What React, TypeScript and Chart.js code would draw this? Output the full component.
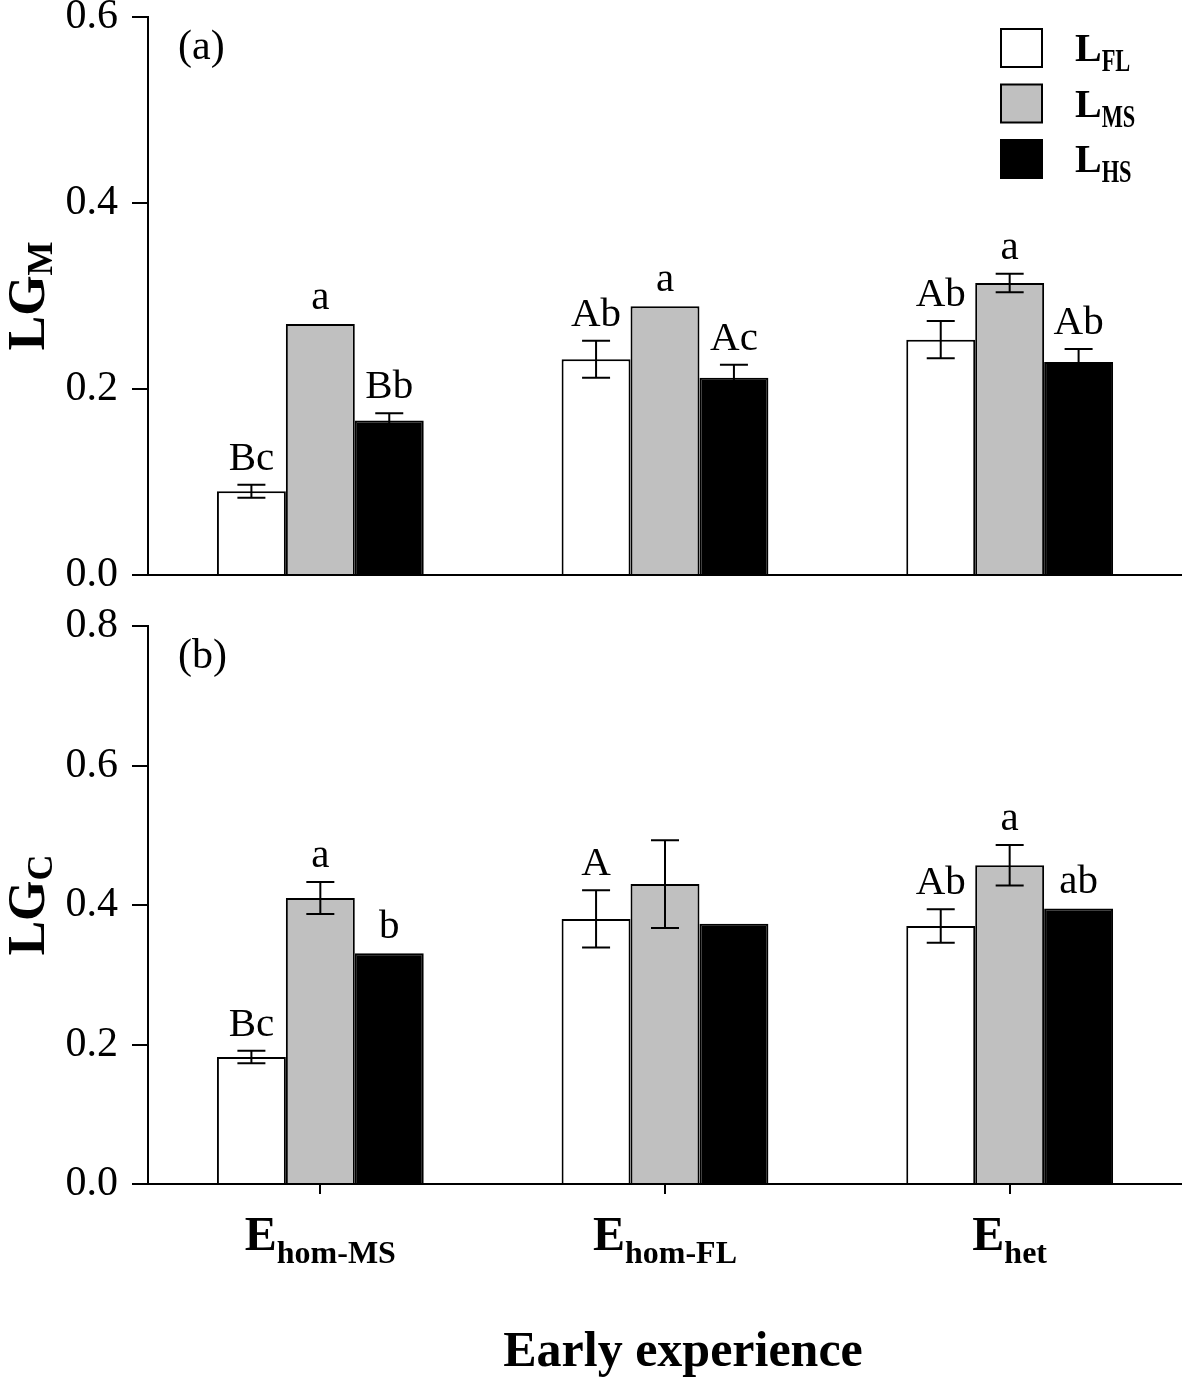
import React, { useEffect, useRef } from "react";
import { Chart, registerables } from "chart.js";

Chart.register(...registerables);

// ---- data ----
const categoryMain = "E";
const categorySubs = ["hom-MS", "hom-FL", "het"];
const seriesMain = "L";
const seriesSubs = ["FL", "MS", "HS"];
const seriesColors = ["#ffffff", "#c0c0c0", "#000000"];
const xTitle = "Early experience";

// Panel (a): LG_M
const lgmFL = [0.09, 0.232, 0.253];
const lgmMS = [0.27, 0.289, 0.314];
const lgmHS = [0.166, 0.212, 0.229];
const lgmFLErr = [0.007, 0.02, 0.02];
const lgmMSErr = [0, 0, 0.01];
const lgmHSErr = [0.008, 0.014, 0.014];
const lgmFLLetters = ["Bc", "Ab", "Ab"];
const lgmMSLetters = ["a", "a", "a"];
const lgmHSLetters = ["Bb", "Ac", "Ab"];
const lgmTicks = [0, 0.2, 0.4, 0.6];

// Panel (b): LG_C
const lgcFL = [0.182, 0.38, 0.37];
const lgcMS = [0.41, 0.43, 0.457];
const lgcHS = [0.331, 0.373, 0.395];
const lgcFLErr = [0.009, 0.041, 0.024];
const lgcMSErr = [0.023, 0.063, 0.029];
const lgcHSErr = [0, 0, 0];
const lgcFLLetters = ["Bc", "A", "Ab"];
const lgcMSLetters = ["a", "", "a"];
const lgcHSLetters = ["b", "", "ab"];
const lgcTicks = [0, 0.2, 0.4, 0.6, 0.8];

const SERIF = '"Liberation Serif", "Times New Roman", serif';

type Panel = {
  values: number[][];
  errors: number[][];
  letters: string[][];
  ticks: number[];
  yMain: string;
  ySub: string;
  tag: string;
  legend: boolean;
  xLabels: boolean;
  height: number;
  padTop: number;
  padBottom: number;
  xAxisHeight: number;
};

const panelA: Panel = {
  values: [lgmFL, lgmMS, lgmHS],
  errors: [lgmFLErr, lgmMSErr, lgmHSErr],
  letters: [lgmFLLetters, lgmMSLetters, lgmHSLetters],
  ticks: lgmTicks,
  yMain: "LG",
  ySub: "M",
  tag: "(a)",
  legend: true,
  xLabels: false,
  height: 600,
  padTop: 17,
  padBottom: 25,
  xAxisHeight: 0,
};

const panelB: Panel = {
  values: [lgcFL, lgcMS, lgcHS],
  errors: [lgcFLErr, lgcMSErr, lgcHSErr],
  letters: [lgcFLLetters, lgcMSLetters, lgcHSLetters],
  ticks: lgcTicks,
  yMain: "LG",
  ySub: "C",
  tag: "(b)",
  legend: false,
  xLabels: true,
  height: 778,
  padTop: 26,
  padBottom: 0,
  xAxisHeight: 194,
};

function makePlugin(p: Panel) {
  return {
    id: "panelDecor",
    afterDatasetsDraw(chart: any) {
      const ctx = chart.ctx;
      const ys = chart.scales.y;
      ctx.save();
      chart.data.datasets.forEach((ds: any, di: number) => {
        const meta = chart.getDatasetMeta(di);
        meta.data.forEach((bar: any, i: number) => {
          const v = ds.data[i];
          const e = p.errors[di][i];
          const x = bar.x;
          if (e > 0) {
            const yt = ys.getPixelForValue(v + e);
            const yb = ys.getPixelForValue(v - e);
            ctx.strokeStyle = "#000";
            ctx.lineWidth = 2;
            ctx.beginPath();
            ctx.moveTo(x, yt);
            ctx.lineTo(x, yb);
            ctx.moveTo(x - 14, yt);
            ctx.lineTo(x + 14, yt);
            ctx.moveTo(x - 14, yb);
            ctx.lineTo(x + 14, yb);
            ctx.stroke();
          }
          const letter = p.letters[di][i];
          if (letter) {
            const top = ys.getPixelForValue(v + e);
            ctx.fillStyle = "#000";
            ctx.font = `41px ${SERIF}`;
            ctx.textAlign = "center";
            ctx.textBaseline = "alphabetic";
            ctx.fillText(letter, x, top - 15);
          }
        });
      });
      ctx.restore();
    },
    afterDraw(chart: any) {
      const ctx = chart.ctx;
      const area = chart.chartArea;
      ctx.save();
      ctx.fillStyle = "#000";
      ctx.textBaseline = "alphabetic";

      // panel tag
      ctx.font = `42px ${SERIF}`;
      ctx.textAlign = "left";
      ctx.fillText(p.tag, area.left + 30, area.top + 42);

      // y title, rotated, with subscript
      const cy = (area.top + area.bottom) / 2;
      ctx.save();
      ctx.translate(44, cy);
      ctx.rotate(-Math.PI / 2);
      ctx.font = `bold 52px ${SERIF}`;
      const wMain = ctx.measureText(p.yMain).width;
      ctx.font = `bold 36px ${SERIF}`;
      const wSub = ctx.measureText(p.ySub).width;
      const start = -(wMain + wSub) / 2;
      ctx.textAlign = "left";
      ctx.font = `bold 52px ${SERIF}`;
      ctx.fillText(p.yMain, start, 0);
      ctx.font = `bold 36px ${SERIF}`;
      ctx.fillText(p.ySub, start + wMain, 8);
      ctx.restore();

      // legend
      if (p.legend) {
        seriesSubs.forEach((sub, i) => {
          const by = 29 + i * 55.5;
          ctx.fillStyle = seriesColors[i];
          ctx.fillRect(1001, by, 41, 38);
          ctx.strokeStyle = "#000";
          ctx.lineWidth = 2;
          ctx.strokeRect(1001, by, 41, 38);
          ctx.fillStyle = "#000";
          ctx.textAlign = "left";
          ctx.font = `bold 40px ${SERIF}`;
          ctx.fillText(seriesMain, 1075, by + 32);
          const wl = ctx.measureText(seriesMain).width;
          ctx.save();
          ctx.translate(1075 + wl, by + 42);
          ctx.scale(0.7, 1);
          ctx.font = `bold 32px ${SERIF}`;
          ctx.fillText(sub, 0, 0);
          ctx.restore();
        });
      }

      // x labels and title
      if (p.xLabels) {
        const xs = chart.scales.x;
        categorySubs.forEach((sub, i) => {
          const cx = xs.getPixelForValue(i);
          ctx.font = `bold 48px ${SERIF}`;
          const wE = ctx.measureText(categoryMain).width;
          ctx.font = `bold 32px ${SERIF}`;
          const wS = ctx.measureText(sub).width;
          const sx = cx - (wE + wS) / 2;
          ctx.textAlign = "left";
          ctx.font = `bold 48px ${SERIF}`;
          ctx.fillText(categoryMain, sx, area.bottom + 66);
          ctx.font = `bold 32px ${SERIF}`;
          ctx.fillText(sub, sx + wE, area.bottom + 79);
        });
        ctx.font = `bold 50px ${SERIF}`;
        ctx.textAlign = "center";
        ctx.fillText(xTitle, (area.left + area.right) / 2 + 18, area.bottom + 182);
      }
      ctx.restore();
    },
  };
}

function makeConfig(p: Panel): any {
  return {
    type: "bar",
    data: {
      labels: categorySubs.map((s) => categoryMain + s),
      datasets: p.values.map((vals, i) => ({
        label: seriesMain + seriesSubs[i],
        data: vals,
        backgroundColor: seriesColors[i],
        borderColor: "#000",
        borderWidth: 2,
        borderSkipped: "bottom",
        barPercentage: 1.0,
        categoryPercentage: 0.6,
      })),
    },
    options: {
      animation: false,
      responsive: false,
      maintainAspectRatio: false,
      layout: { padding: { top: p.padTop, bottom: p.padBottom, left: 0, right: 0 } },
      plugins: { legend: { display: false }, tooltip: { enabled: false }, title: { display: false } },
      scales: {
        x: {
          grid: {
            display: p.xLabels,
            drawOnChartArea: false,
            drawTicks: true,
            tickLength: 10,
            offset: false,
            color: "#000",
            lineWidth: 2,
          },
          border: { display: true, color: "#000", width: 2 },
          ticks: { display: false },
          afterFit: (s: any) => {
            s.height = p.xAxisHeight;
            s.paddingLeft = 0;
            s.paddingRight = 0;
          },
        },
        y: {
          min: 0,
          max: p.ticks[p.ticks.length - 1],
          afterBuildTicks: (s: any) => {
            s.ticks = p.ticks.map((v) => ({ value: v }));
          },
          grid: {
            display: true,
            drawOnChartArea: false,
            drawTicks: true,
            tickLength: 16,
            color: "#000",
            lineWidth: 2,
          },
          border: { display: true, color: "#000", width: 2 },
          ticks: {
            color: "#000",
            font: { family: SERIF, size: 42 },
            padding: 14,
            callback: (v: any) => Number(v).toFixed(1),
          },
          afterFit: (s: any) => {
            s.width = 148;
            s.paddingTop = 0;
            s.paddingBottom = 0;
          },
        },
      },
    },
    plugins: [makePlugin(p)],
  };
}

function PanelChart({ panel, top }: { panel: Panel; top: number }) {
  const ref = useRef<HTMLCanvasElement | null>(null);
  useEffect(() => {
    if (!ref.current) return;
    const chart = new Chart(ref.current, makeConfig(panel));
    return () => chart.destroy();
  }, [panel]);
  return (
    <canvas
      ref={ref}
      width={1182}
      height={panel.height}
      style={{ position: "absolute", left: 0, top, width: 1182, height: panel.height, display: "block" }}
    />
  );
}

export default function App() {
  return (
    <div style={{ position: "absolute", left: 0, top: 0, width: 1182, height: 1378, background: "#fff" }}>
      <PanelChart panel={panelA} top={0} />
      <PanelChart panel={panelB} top={600} />
    </div>
  );
}
